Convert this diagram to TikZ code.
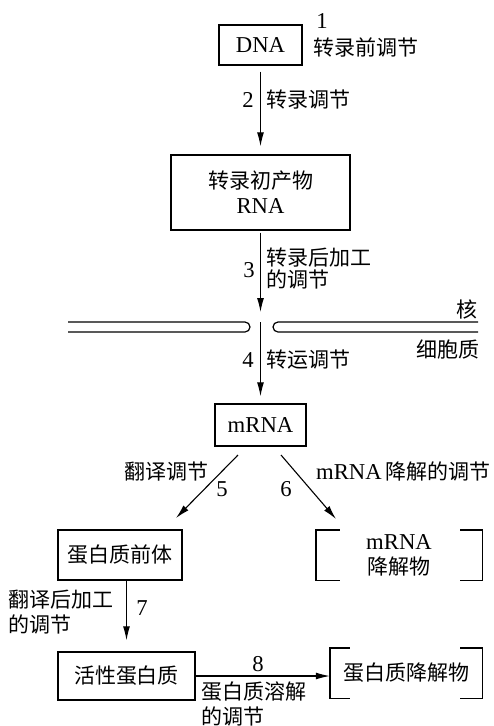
\documentclass[tikz,border=0pt]{standalone}
\usepackage{fontspec}
\setmainfont{Liberation Serif}[Scale=1.08]
\newfontfamily\cjk{Noto Sans CJK SC}
\usetikzlibrary{arrows.meta}
\begin{document}
\begin{tikzpicture}[x=1pt,y=-1pt,
  every node/.style={font=\fontsize{21}{25}\selectfont, inner sep=0pt},
  box/.style={draw, line width=1.4pt},
  arr/.style={line width=1.1pt, -{Latex[length=14pt,width=7pt]}},
  memb/.style={line width=1.2pt},
  brk/.style={line width=1.4pt}]
\useasboundingbox (0,0) rectangle (493,726);
% boxes
\node[box, minimum width=83, minimum height=40] (dna) at (260.5,45) {DNA};
\node[box, minimum width=179, minimum height=75, align=center] (rna) at (260.5,192.5) {{\cjk 转录初产物}\\RNA};
\node[box, minimum width=91, minimum height=42] (mrna) at (260.5,425) {mRNA};
\node[box, minimum width=124, minimum height=50] (qt) at (120,555) {\cjk 蛋白质前体};
\node[box, minimum width=137, minimum height=48] (hx) at (126.5,676) {\cjk 活性蛋白质};
\node[minimum width=166, minimum height=50, align=center] (md) at (399,555) {mRNA\\{\cjk 降解物}};
\node[minimum width=152, minimum height=50] (pd) at (406,673) {\cjk 蛋白质降解物};
% brackets
\draw[brk] ([xshift=24]md.north west) -- (md.north west) -- (md.south west) -- ([xshift=24]md.south west);
\draw[brk] ([xshift=-22]md.north east) -- (md.north east) -- (md.south east) -- ([xshift=-22]md.south east);
\draw[brk] ([xshift=20]pd.north west) -- (pd.north west) -- (pd.south west) -- ([xshift=20]pd.south west);
\draw[brk] ([xshift=-22]pd.north east) -- (pd.north east) -- (pd.south east) -- ([xshift=-22]pd.south east);
% membrane
\draw[memb] (68,322) -- (245,322) arc[start angle=-90, end angle=90, radius=5] -- (68,332);
\draw[memb] (478,322) -- (278,322) arc[start angle=270, end angle=90, radius=5] -- (478,332);
% coordinates
\coordinate (m3) at (260.5,312);
\coordinate (m4) at (260.5,322);
\coordinate (s5) at (238,455);
\coordinate (e5) at (176,518);
\coordinate (s6) at (281,455);
\coordinate (e6) at (336,519);
% arrows
\draw[arr, shorten <=6pt, shorten >=8pt] (dna.south) -- (rna.north);
\draw[arr, shorten <=2pt] (rna.south) -- (m3);
\draw[arr, shorten >=7pt] (m4) -- (mrna.north);
\draw[arr] (s5) -- (e5);
\draw[arr] (s6) -- (e6);
\draw[arr, shorten >=11pt] (hx.north |- qt.south) -- (hx.north);
\draw[arr] (hx.east) -- (hx.east -| pd.west);
% labels
\node (l1) at (322,21) {1};
\node[anchor=west] (t1) at (313,47) {\cjk 转录前调节};
\node (l2) at (248,100) {2};
\node[anchor=west] (t2) at (266,100) {\cjk 转录调节};
\node (l3) at (249,270) {3};
\node[anchor=west, align=left, font=\fontsize{21}{22}\selectfont] (t3) at (266,269) {\cjk 转录后加工\\\cjk 的调节};
\node (he) at (467,309) {\cjk 核};
\node[anchor=east] (xb) at (480,350) {\cjk 细胞质};
\node (l4) at (248,360) {4};
\node[anchor=west] (t4) at (266,360) {\cjk 转运调节};
\node[anchor=east] (t5) at (209,472) {\cjk 翻译调节};
\node (l5) at (222,489) {5};
\node (l6) at (286,489) {6};
\node[anchor=west] (t6) at (316,472) {mRNA\,{\cjk 降解的调节}};
\node[anchor=west, align=left] (t7) at (8,612) {\cjk 翻译后加工\\\cjk 的调节};
\node (l7) at (142,608) {7};
\node (l8) at (258,664) {8};
\node[anchor=west, align=left] (t8) at (201,704) {\cjk 蛋白质溶解\\\cjk 的调节};
\end{tikzpicture}
\end{document}
